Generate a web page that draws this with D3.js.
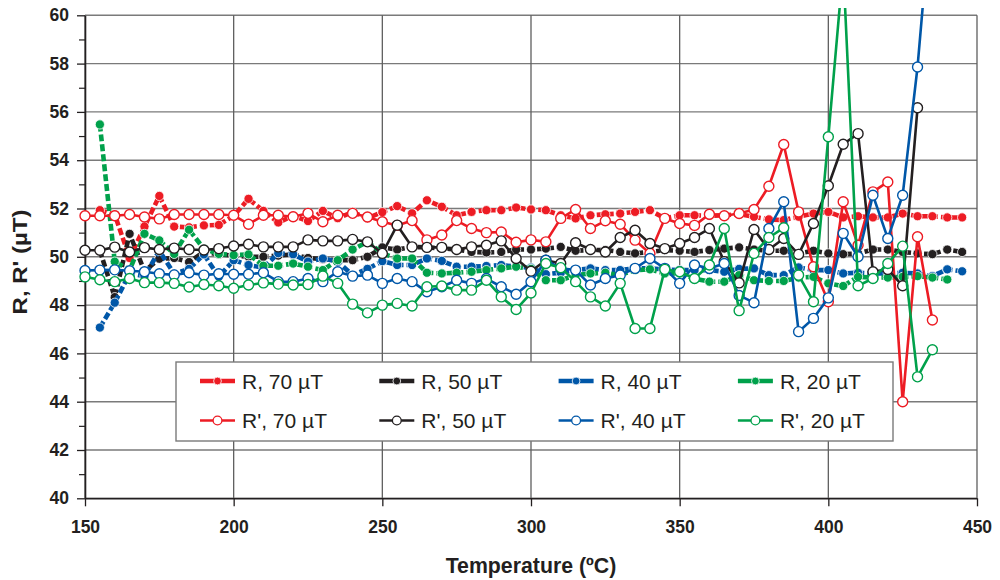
<!DOCTYPE html>
<html>
<head>
<meta charset="utf-8">
<script src="https://cdn.jsdelivr.net/npm/d3@7"></script>
<style>
  body { margin: 0; background: #fff; }
  svg { display: block; }
  text { font-family: "Liberation Sans", Arial, Helvetica, sans-serif; fill: #231f20; }
</style>
</head>
<body>
<svg id="chart" width="1000" height="580"></svg>
<script>
// Temperature steps (ºC): R series start at 155, R' series at 150
const tempR = [155,160,165,170,175,180,185,190,195,200,205,210,215,220,225,230,235,240,245,250,
  255,260,265,270,275,280,285,290,295,300,305,310,315,320,325,330,335,340,345,350,
  355,360,365,370,375,380,385,390,395,400,405,410,415,420,425,430,435,440,445];
const tempRp = [150,155,160,165,170,175,180,185,190,195,200,205,210,215,220,225,230,235,240,245,
  250,255,260,265,270,275,280,285,290,295,300,305,310,315,320,325,330,335,340,345,
  350,355,360,365,370,375,380,385,390,395,400,405,410,415,420,425,430,435];

// R (µT) at each field
const r70 = [51.93,51.75,49.95,51.25,52.52,51.25,51.22,51.3,51.32,51.7,52.4,51.9,51.42,51.7,51.48,51.9,51.6,51.85,51.6,51.85,
  52.1,51.8,52.34,52.07,51.72,51.86,51.93,51.93,52.04,51.96,51.93,51.72,51.59,51.72,51.76,51.79,51.86,51.93,51.59,51.72,
  51.72,51.7,51.72,51.76,51.66,51.55,51.52,51.66,51.79,51.86,51.63,51.68,51.63,51.63,51.79,51.68,51.68,51.63,51.63];
const r50 = [50.26,48.33,50.95,49.4,49.92,49.95,49.78,50.2,50.1,50.05,50.0,50.0,50.05,50.1,49.95,49.9,49.86,49.86,50.0,50.39,
  50.3,50.41,50.39,50.35,50.3,50.2,50.18,50.2,50.3,50.3,50.34,50.41,50.25,50.28,50.28,50.2,50.14,50.2,50.28,50.25,
  50.2,50.28,50.34,50.39,50.3,50.25,50.25,50.14,50.25,50.14,50.11,50.14,50.3,50.3,50.2,50.14,50.11,50.3,50.2];
const r40 = [47.07,48.1,49.3,49.2,50.25,49.3,49.5,50.1,49.17,49.86,49.66,49.55,50.15,50.1,49.8,49.93,49.8,49.24,49.5,49.82,
  49.66,49.66,49.93,49.83,49.59,49.59,49.62,49.66,49.59,49.55,49.28,49.34,49.45,49.52,49.45,49.45,49.52,49.52,49.48,49.45,
  49.45,49.45,49.38,49.5,49.52,49.24,49.24,49.56,49.45,49.45,49.31,49.34,49.31,49.31,49.34,49.31,49.2,49.48,49.4];
const r20 = [55.48,49.8,49.45,50.95,50.68,50.12,51.12,50.33,50.12,50.07,50.1,49.63,49.63,49.72,49.59,49.45,49.86,50.3,50.62,50.14,
  49.93,49.93,49.34,49.31,49.34,49.38,49.45,49.52,49.59,49.5,49.03,49.03,49.24,49.31,49.34,49.24,49.45,49.48,49.31,49.31,
  49.1,48.97,48.97,49.24,49.03,49.0,49.0,49.14,49.17,48.9,48.79,49.17,49.14,49.14,49.17,49.2,49.14,49.06];

// R' (µT) at each field
const rp70 = [51.7,51.7,51.7,51.75,51.65,51.57,51.75,51.75,51.75,51.75,51.72,51.35,51.72,51.72,51.66,51.8,51.45,51.72,51.8,51.65,
  51.45,51.3,51.5,50.7,50.9,51.5,51.17,51.0,51.03,50.6,50.7,50.62,51.59,51.96,51.17,51.49,51.35,50.69,50.14,51.59,
  51.38,51.3,51.76,51.7,51.79,51.96,52.92,54.65,51.86,49.59,48.14,52.28,50.48,52.69,53.1,44.0,50.83,47.38];
const rp50 = [50.27,50.27,50.4,50.2,50.38,50.3,50.36,50.3,50.28,50.34,50.45,50.52,50.41,50.41,50.41,50.7,50.66,50.66,50.72,50.62,
  50.14,51.31,50.41,50.39,50.39,50.3,50.41,50.48,50.66,49.93,49.4,49.86,49.72,50.58,50.3,50.2,50.8,51.1,50.55,50.34,
  50.55,50.8,51.17,49.8,48.92,51.13,50.3,50.76,50.1,51.38,52.94,54.66,55.1,49.38,49.48,48.8,56.17];
const rp40 = [49.43,49.45,49.46,49.42,49.38,49.3,49.25,49.34,49.24,49.3,49.28,49.28,49.34,48.97,48.97,49.1,48.97,49.38,49.2,49.24,
  48.9,49.1,48.97,48.55,48.76,49.03,48.9,49.1,48.76,48.45,48.97,49.86,49.52,49.45,48.83,49.1,49.24,49.52,49.93,49.52,
  48.9,49.66,49.52,49.72,48.4,48.1,51.17,52.28,46.9,47.45,48.3,50.97,50.0,52.55,50.76,52.55,57.86,65.0];
const rp20 = [49.17,49.05,48.97,49.1,48.93,48.93,48.9,48.75,48.85,48.8,48.7,48.83,48.92,48.87,48.83,48.85,49.2,48.9,48.04,47.68,
  48.0,48.07,47.96,48.76,48.79,48.62,48.62,49.03,48.34,47.82,48.5,49.72,49.55,48.97,48.34,47.96,48.9,47.03,47.03,49.48,
  49.38,49.1,49.66,51.17,47.77,50.14,50.8,51.2,49.24,48.14,54.97,62.0,48.8,49.1,49.72,50.44,45.03,46.15];

const xTicks = [150,200,250,300,350,400,450];
const yTicks = [40,42,44,46,48,50,52,54,56,58,60];
const yMinorTicks = [41,43,45,47,49,51,53,55,57,59];
const legendLabels = ["R, 70 µT","R, 50 µT","R, 40 µT","R, 20 µT","R', 70 µT","R', 50 µT","R', 40 µT","R', 20 µT"];
const fieldColors = ["#ed1c24","#231f20","#0057a8","#00a14b"];

const series = [
  { label: legendLabels[0], temps: tempR,  values: r70,  color: fieldColors[0], open: false },
  { label: legendLabels[1], temps: tempR,  values: r50,  color: fieldColors[1], open: false },
  { label: legendLabels[2], temps: tempR,  values: r40,  color: fieldColors[2], open: false },
  { label: legendLabels[3], temps: tempR,  values: r20,  color: fieldColors[3], open: false },
  { label: legendLabels[4], temps: tempRp, values: rp70, color: fieldColors[0], open: true },
  { label: legendLabels[5], temps: tempRp, values: rp50, color: fieldColors[1], open: true },
  { label: legendLabels[6], temps: tempRp, values: rp40, color: fieldColors[2], open: true },
  { label: legendLabels[7], temps: tempRp, values: rp20, color: fieldColors[3], open: true }
];

const svg = d3.select("#chart");
const mLeft = 85, mRight = 977, mTop = 15.3, mBottom = 498.3;
const x = d3.scaleLinear().domain([150, 450]).range([mLeft, mRight]);
const y = d3.scaleLinear().domain([40, 60]).range([mBottom, mTop]);

// grid
const grid = svg.append("g");
grid.selectAll("line.h").data(yTicks).join("line")
  .attr("x1", mLeft).attr("x2", mRight)
  .attr("y1", d => y(d)).attr("y2", d => y(d))
  .attr("stroke", "#7a7a7a").attr("stroke-width", 1.4);
grid.selectAll("line.v").data(xTicks).join("line")
  .attr("y1", mTop).attr("y2", mBottom)
  .attr("x1", d => x(d)).attr("x2", d => x(d))
  .attr("stroke", "#5f5f5f").attr("stroke-width", 1.3);

// axes
const yAxis = svg.append("g").attr("transform", `translate(${mLeft},0)`)
  .call(d3.axisLeft(y).tickValues(yTicks).tickSize(8).tickSizeOuter(0).tickPadding(8).tickFormat(d3.format("d")));
svg.append("g").attr("transform", `translate(${mLeft},0)`)
  .call(d3.axisLeft(y).tickValues(yMinorTicks).tickSize(6).tickSizeOuter(0).tickFormat(""))
  .call(g => g.select(".domain").remove())
  .call(g => g.selectAll(".tick line").attr("stroke", "#231f20").attr("stroke-width", 1.2));
const xAxis = svg.append("g").attr("transform", `translate(0,${mBottom})`)
  .call(d3.axisBottom(x).tickValues(xTicks).tickSize(8).tickSizeOuter(0).tickPadding(14).tickFormat(d3.format("d")));

[yAxis, xAxis].forEach(g => {
  g.select(".domain").attr("stroke", "#231f20").attr("stroke-width", 1.6);
  g.selectAll(".tick line").attr("stroke", "#231f20").attr("stroke-width", 1.3);
  g.selectAll(".tick text")
    .attr("font-family", "'Liberation Sans', Arial, sans-serif")
    .attr("font-size", 17.5).attr("font-weight", "bold").attr("fill", "#231f20");
});

// axis titles
svg.append("text")
  .attr("x", 531).attr("y", 573)
  .attr("text-anchor", "middle").attr("font-size", 21.3).attr("font-weight", "bold")
  .text("Temperature (ºC)");
svg.append("text")
  .attr("transform", "translate(27,262) rotate(-90) scale(1,0.85)")
  .attr("text-anchor", "middle").attr("font-size", 24).attr("font-weight", "bold")
  .text("R, R' (µT)");

// data clipping (lines may run past the 60 µT line up to the top of the frame)
svg.append("defs").append("clipPath").attr("id", "plotClip")
  .append("rect").attr("x", mLeft - 10).attr("y", 8).attr("width", mRight - mLeft + 20).attr("height", mBottom - 8 + 10);

const plot = svg.append("g").attr("clip-path", "url(#plotClip)");
const line = d3.line().x(d => x(d[0])).y(d => y(d[1]));

series.forEach(s => {
  const pts = s.values.map((v, i) => [s.temps[i], v]);
  const g = plot.append("g");
  g.append("path").datum(pts)
    .attr("d", line).attr("fill", "none")
    .attr("stroke", s.color)
    .attr("stroke-width", s.open ? 2.6 : 4.6)
    .attr("stroke-dasharray", s.open ? null : "7 3")
    .attr("stroke-linejoin", "round");
  g.selectAll("circle").data(pts).join("circle")
    .attr("cx", d => x(d[0])).attr("cy", d => y(d[1]))
    .attr("r", s.open ? 5 : 4.6)
    .attr("fill", s.open ? "#fff" : s.color)
    .attr("stroke", s.open ? s.color : "#fff")
    .attr("stroke-width", s.open ? 1.4 : 0.8);
});

// legend
const lg = svg.append("g");
lg.append("rect").attr("x", 176).attr("y", 362).attr("width", 717).attr("height", 79)
  .attr("fill", "#fff").attr("stroke", "#7a7a7a").attr("stroke-width", 1.4);
series.forEach((s, i) => {
  const col = i % 4, row = Math.floor(i / 4);
  const tx = 242 + col * 179.3, ty = 381 + row * 39.5;
  lg.append("line").attr("x1", tx - 42).attr("x2", tx - 7).attr("y1", ty).attr("y2", ty)
    .attr("stroke", s.color).attr("stroke-width", s.open ? 2.6 : 4.6);
  lg.append("circle").attr("cx", tx - 24.5).attr("cy", ty)
    .attr("r", s.open ? 4.4 : 3.9)
    .attr("fill", s.open ? "#fff" : s.color)
    .attr("stroke", s.open ? s.color : "#fff").attr("stroke-width", s.open ? 1.3 : 0.8);
  lg.append("text")
    .attr("x", tx).attr("y", ty + 7.5)
    .attr("font-size", 21)
    .text(s.label);
});
</script>
</body>
</html>
